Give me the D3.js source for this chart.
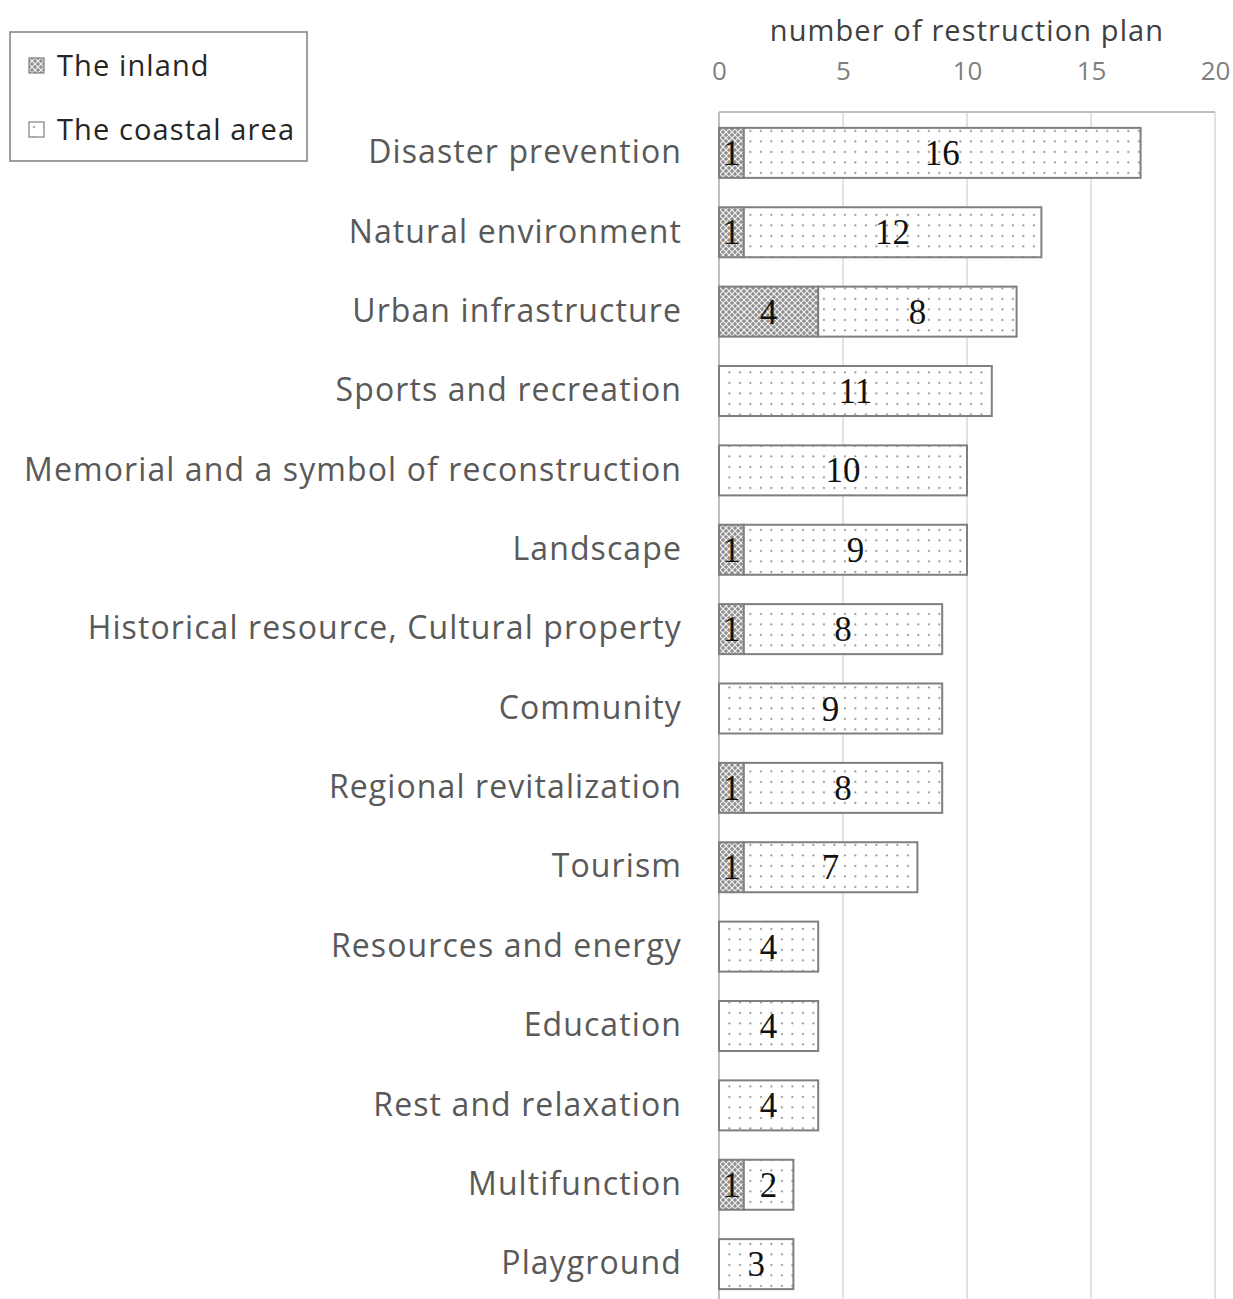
<!DOCTYPE html>
<html>
<head>
<meta charset="utf-8">
<script src="https://cdn.jsdelivr.net/npm/d3@7"></script>
<style>
body { margin: 0; background: #fff; }
svg text { font-family: "Open Sans", sans-serif; }
</style>
</head>
<body>
<svg width="1233" height="1299"></svg>
<script>
const categories = ["Disaster prevention", "Natural environment", "Urban infrastructure",
  "Sports and recreation", "Memorial and a symbol of reconstruction", "Landscape",
  "Historical resource, Cultural property", "Community", "Regional revitalization",
  "Tourism", "Resources and energy", "Education", "Rest and relaxation",
  "Multifunction", "Playground"];
const inland =  [1, 1, 4, 0, 0, 1, 1, 0, 1, 1, 0, 0, 0, 1, 0];
const coastal = [16, 12, 8, 11, 10, 9, 8, 9, 8, 7, 4, 4, 4, 2, 3];
const seriesNames = ["The inland", "The coastal area"];
const xTicks = [0, 5, 10, 15, 20];

const svg = d3.select("svg");

// patterns
const defs = svg.append("defs");
const pIn = defs.append("pattern").attr("id", "pin")
  .attr("patternUnits", "userSpaceOnUse").attr("width", 6).attr("height", 6);
pIn.append("rect").attr("width", 6).attr("height", 6).attr("fill", "#8f8f8f");
pIn.append("path").attr("d", "M0,0L6,6M6,0L0,6").attr("stroke", "#f2f2f2").attr("stroke-width", 1.2);
const pCo = defs.append("pattern").attr("id", "pco")
  .attr("patternUnits", "userSpaceOnUse").attr("width", 10.5).attr("height", 10.5);
pCo.append("rect").attr("width", 10.5).attr("height", 10.5).attr("fill", "#fff");
pCo.append("rect").attr("x", 4).attr("y", 4).attr("width", 1.8).attr("height", 1.8).attr("fill", "#888");

const x = d3.scaleLinear().domain([0, 20]).range([719, 1215]);
const y = d3.scaleBand().domain(categories).range([112, 1305]).paddingInner(0.37).paddingOuter(0.2);

// gridlines
svg.append("g").selectAll("line").data(xTicks.slice(1)).join("line")
  .attr("x1", d => x(d)).attr("x2", d => x(d)).attr("y1", 112).attr("y2", 1299)
  .attr("stroke", "#d9d9d9").attr("stroke-width", 1.5);
svg.append("line").attr("x1", x(0)).attr("x2", x(20)).attr("y1", 112).attr("y2", 112)
  .attr("stroke", "#bfbfbf").attr("stroke-width", 2);
svg.append("line").attr("x1", x(0)).attr("x2", x(0)).attr("y1", 112).attr("y2", 1299)
  .attr("stroke", "#bfbfbf").attr("stroke-width", 2);

// axis on top
const ax = svg.append("g").attr("transform", "translate(0,80)")
  .call(d3.axisTop(x).tickValues(xTicks).tickSize(0).tickPadding(0));
ax.select(".domain").remove();
ax.selectAll("text").attr("font-size", 26).attr("fill", "#7f7f7f")
  .style("font-family", "'Open Sans', sans-serif");

svg.append("text").attr("x", 967).attr("y", 41).attr("text-anchor", "middle")
  .attr("font-size", 29).attr("letter-spacing", 1.1).attr("fill", "#404040")
  .text("number of restruction plan");

// category labels
const ay = svg.append("g").attr("transform", "translate(682,0)")
  .call(d3.axisLeft(y).tickSize(0).tickPadding(0));
ay.select(".domain").remove();
ay.selectAll("text").attr("font-size", 32).attr("letter-spacing", 1.1).attr("fill", "#595959")
  .style("font-family", "'Open Sans', sans-serif");

const rows = categories.map((c, i) => ({ c, a: inland[i], b: coastal[i] }));

const g = svg.append("g");
g.selectAll("rect.in").data(rows.filter(d => d.a > 0)).join("rect")
  .attr("x", x(0)).attr("y", d => y(d.c))
  .attr("width", d => x(d.a) - x(0)).attr("height", y.bandwidth())
  .attr("fill", "url(#pin)").attr("stroke", "#7f7f7f").attr("stroke-width", 2);
g.selectAll("rect.co").data(rows).join("rect")
  .attr("x", d => x(d.a)).attr("y", d => y(d.c))
  .attr("width", d => x(d.a + d.b) - x(d.a)).attr("height", y.bandwidth())
  .attr("fill", "url(#pco)").attr("stroke", "#7f7f7f").attr("stroke-width", 2);

// value labels
g.selectAll("text.vin").data(rows.filter(d => d.a > 0)).join("text")
  .attr("x", d => x(d.a / 2)).attr("y", d => y(d.c) + y.bandwidth() / 2 + 12)
  .attr("text-anchor", "middle").attr("font-size", 35).attr("fill", "#111")
  .style("font-family", "'Liberation Serif', serif").text(d => d.a);
g.selectAll("text.vco").data(rows).join("text")
  .attr("x", d => x(d.a + d.b / 2)).attr("y", d => y(d.c) + y.bandwidth() / 2 + 12)
  .attr("text-anchor", "middle").attr("font-size", 35).attr("fill", "#111")
  .style("font-family", "'Liberation Serif', serif").text(d => d.b);

// legend
const lg = svg.append("g");
lg.append("rect").attr("x", 10).attr("y", 32).attr("width", 297).attr("height", 129)
  .attr("fill", "#fff").attr("stroke", "#7f7f7f").attr("stroke-width", 1.5);
const items = lg.selectAll("g").data(seriesNames).join("g")
  .attr("transform", (d, i) => "translate(29," + (58 + i * 64) + ")");
items.append("rect").attr("width", 15).attr("height", 15)
  .attr("fill", (d, i) => i === 0 ? "url(#pin)" : "url(#pco)")
  .attr("stroke", "#7f7f7f").attr("stroke-width", 1.2);
items.append("text").attr("x", 28).attr("y", 18).attr("font-size", 29)
  .attr("letter-spacing", 1.1).attr("fill", "#262626").text(d => d);
</script>
</body>
</html>
